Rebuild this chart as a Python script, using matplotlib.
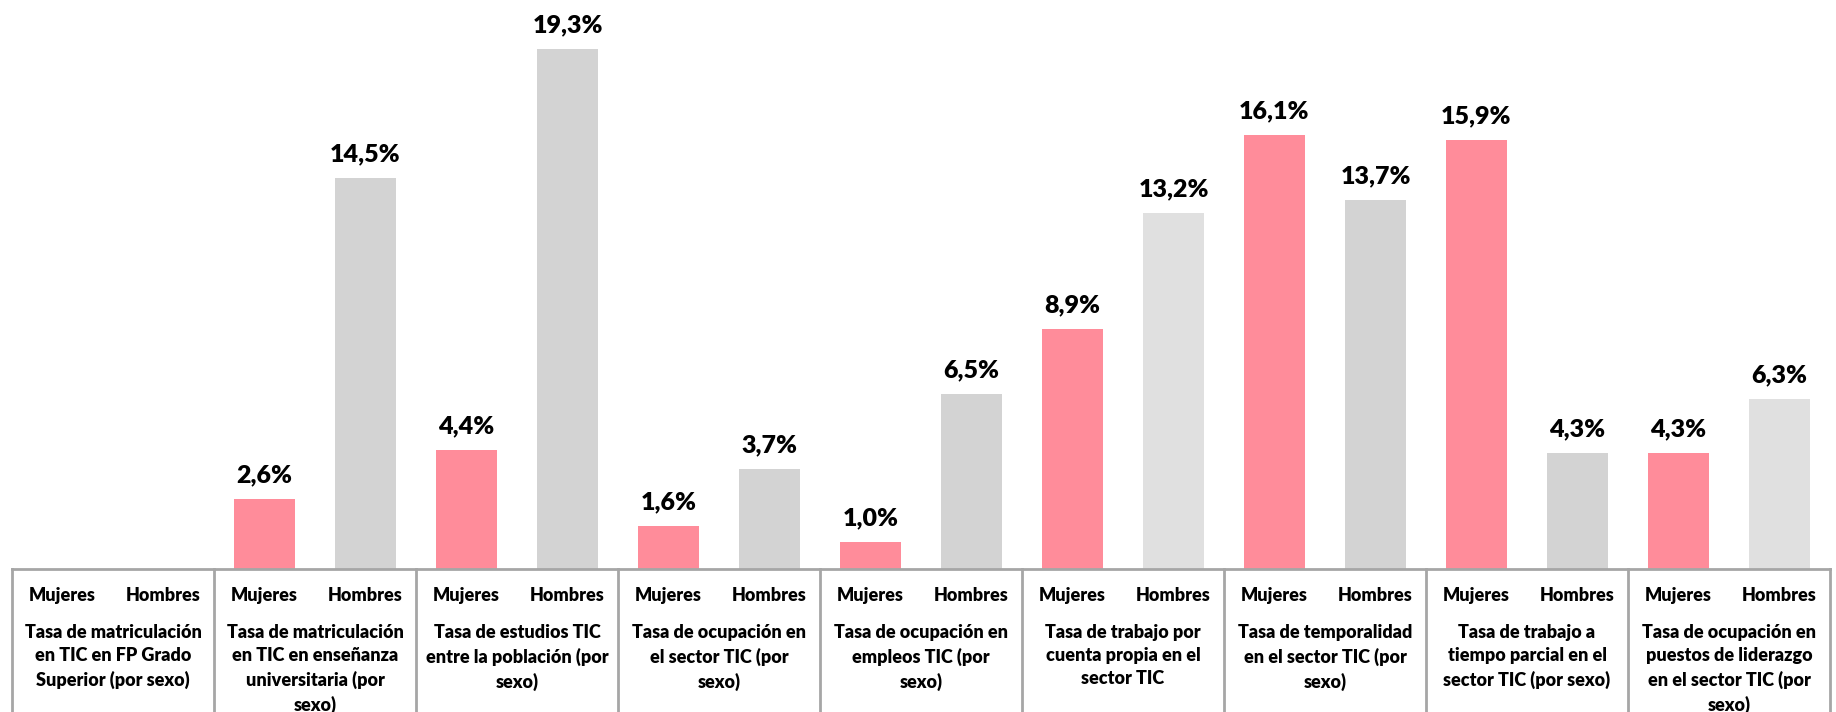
import matplotlib

matplotlib.use("Agg")
import matplotlib.pyplot as plt
import numpy as np

# Data
categorias = [
    "Tasa de matriculación\nen TIC en FP Grado\nSuperior (por sexo)",
    "Tasa de matriculación\nen TIC en enseñanza\nuniversitaria (por\nsexo)",
    "Tasa de estudios TIC\nentre la población (por\nsexo)",
    "Tasa de ocupación en\nel sector TIC (por\nsexo)",
    "Tasa de ocupación en\nempleos TIC (por\nsexo)",
    "Tasa de trabajo por\ncuenta propia en el\nsector TIC",
    "Tasa de temporalidad\nen el sector TIC (por\nsexo)",
    "Tasa de trabajo a\ntiempo parcial en el\nsector TIC (por sexo)",
    "Tasa de ocupación en\npuestos de liderazgo\nen el sector TIC (por\nsexo)",
]
mujeres = [np.nan, 2.6, 4.4, 1.6, 1.0, 8.9, 16.1, 15.9, 4.3]
hombres = [np.nan, 14.5, 19.3, 3.7, 6.5, 13.2, 13.7, 4.3, 6.3]
sexos = ["Mujeres", "Hombres"]

COLOR_MUJERES = "#FF8C9A"
COLOR_HOMBRES = "#D3D3D3"
COLOR_HOMBRES_CLARO = "#E0E0E0"
COLOR_LINEAS = "#A6A6A6"

plt.rcParams["font.family"] = ["Lato", "DejaVu Sans"]

fig = plt.figure(figsize=(18.36, 7.12), dpi=100)
ax = fig.add_axes([12 / 1836, 143 / 712, 1818 / 1836, 569 / 712])

n = len(categorias)
x = np.arange(n)
bar_w = 0.3

colores_h = [COLOR_HOMBRES_CLARO if i in (5, 8) else COLOR_HOMBRES for i in range(n)]
ax.bar(x + 0.25, mujeres, width=bar_w, color=COLOR_MUJERES)
ax.bar(x + 0.75, hombres, width=bar_w, color=colores_h)


def etiqueta(v):
    return f"{v:.1f}%".replace(".", ",")


for xs, vals in ((x + 0.25, mujeres), (x + 0.75, hombres)):
    for xi, v in zip(xs, vals):
        if np.isnan(v):
            continue
        ax.annotate(etiqueta(v), (xi, v), xytext=(0, 12), textcoords="offset points",
                    ha="center", va="baseline", fontsize=18, fontweight="heavy")

ax.set_xlim(0, n)
ax.set_ylim(0, 21.1)
ax.axis("off")

# table under the bars
trans = ax.get_xaxis_transform()
ax.plot([0, n], [0, 0], color=COLOR_LINEAS, lw=2, transform=trans, clip_on=False)
for b in range(n + 1):
    ax.plot([b, b], [0, -0.3], color=COLOR_LINEAS, lw=2, transform=trans, clip_on=False)

for i in range(n):
    for j, s in enumerate(sexos):
        ax.text(i + 0.25 + 0.5 * j, -0.046, s, transform=trans, ha="center", va="center",
                fontsize=13, fontweight="heavy")
    ax.text(i + 0.5, -0.096, categorias[i], transform=trans, ha="center", va="top",
            fontsize=13, fontweight="heavy", linespacing=1.45)

fig.savefig("out.png", dpi=100)
